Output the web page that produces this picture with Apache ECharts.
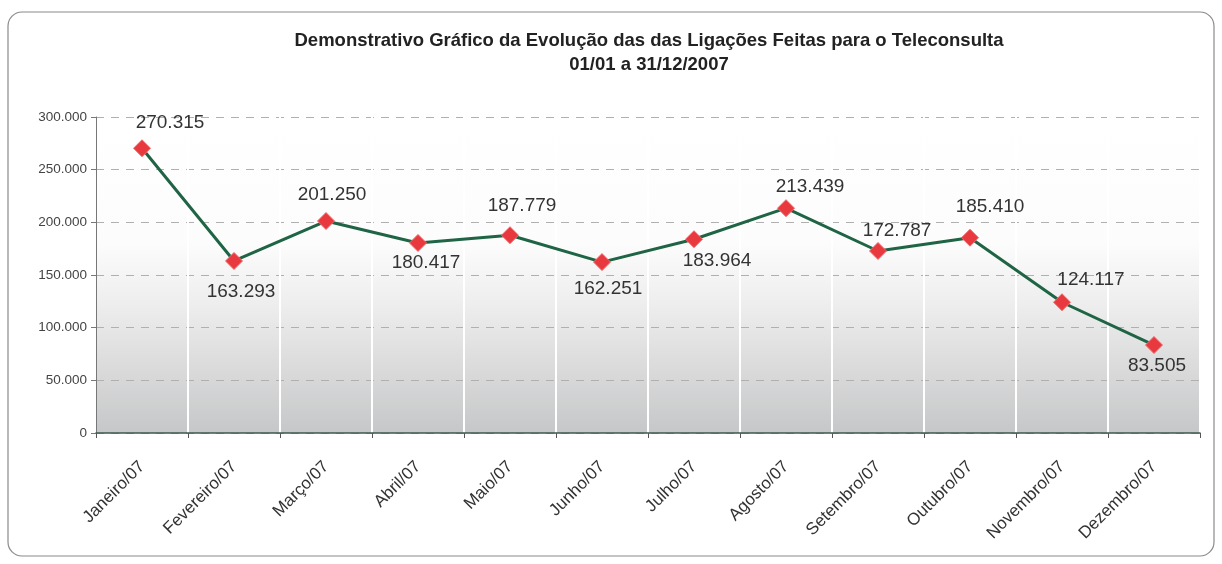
<!DOCTYPE html>
<html>
<head>
<meta charset="utf-8">
<script src="https://cdn.jsdelivr.net/npm/echarts@6/dist/echarts.min.js"></script>
<style>
    html, body {margin: 0; padding: 0; background: #fff;}
    #chart {width: 1222px; height: 564px;}
</style>
</head>
<body>
<div id="chart"></div>
<script>
const months = ['Janeiro/07', 'Fevereiro/07', 'Março/07', 'Abril/07', 'Maio/07', 'Junho/07',
    'Julho/07', 'Agosto/07', 'Setembro/07', 'Outubro/07', 'Novembro/07', 'Dezembro/07'];
const ligacoes = [270315, 163293, 201250, 180417, 187779, 162251, 183964, 213439, 172787, 185410, 124117, 83505];
const yTicks = [0, 50000, 100000, 150000, 200000, 250000, 300000];

// deslocamento de cada rótulo em relação ao ponto (como no Excel original)
const labelShift = [[28, -26], [7, 31], [6, -26], [8, 20], [12, -29], [6, 27],
    [23, 22], [24, -21], [19, -20], [20, -31], [29, -22], [3, 21]];

function fmt(v) {
    return String(v).replace(/\B(?=(\d{3})+(?!\d))/g, '.');
}

const seriesData = ligacoes.map(function (v, i) {
    return {
        value: v,
        label: {position: 'inside', offset: labelShift[i]}
    };
});

const chart = echarts.init(document.getElementById('chart'));
chart.setOption({
    backgroundColor: '#fff',
    animation: false,
    title: {
        text: 'Demonstrativo Gráfico da Evolução das das Ligações Feitas para o Teleconsulta\n01/01 a 31/12/2007',
        left: 644,
        textAlign: 'center',
        top: 24,
        textStyle: {
            fontFamily: 'Liberation Sans, Arial',
            fontSize: 18.5,
            fontWeight: 'bold',
            color: '#222',
            lineHeight: 24
        }
    },
    graphic: [{
        type: 'rect',
        shape: {x: 8, y: 12, width: 1206, height: 544, r: 14},
        style: {fill: 'none', stroke: '#8a8a8a', lineWidth: 1.2},
        z: -10
    }],
    grid: {
        left: 96, right: 22, top: 117, bottom: 131,
        show: true,
        borderWidth: 0,
        backgroundColor: new echarts.graphic.LinearGradient(0, 0, 0, 1, [
            {offset: 0, color: '#ffffff'},
            {offset: 0.4, color: '#fcfcfc'},
            {offset: 0.6, color: '#ededed'},
            {offset: 1, color: '#c6c7c8'}
        ])
    },
    xAxis: {
        type: 'category',
        data: months,
        boundaryGap: true,
        axisLine: {lineStyle: {color: '#3d5a4c', width: 1.5}},
        axisTick: {show: true, alignWithLabel: false, length: 5, lineStyle: {color: '#555'}},
        splitLine: {show: true, lineStyle: {color: '#ffffff', width: 2}},
        axisLabel: {
            rotate: 45,
            margin: 31,
            fontFamily: 'Liberation Sans, Arial',
            fontSize: 17,
            color: '#333'
        }
    },
    yAxis: {
        type: 'value',
        min: yTicks[0],
        max: yTicks[yTicks.length - 1],
        interval: yTicks[1] - yTicks[0],
        axisLine: {show: true, lineStyle: {color: '#777'}},
        axisTick: {show: true, length: 5, lineStyle: {color: '#777'}},
        splitLine: {show: true, lineStyle: {color: '#b0b0b0', type: [8, 7], width: 1}},
        axisLabel: {
            formatter: fmt,
            fontFamily: 'Liberation Sans, Arial',
            fontSize: 13.5,
            color: '#444',
            margin: 9
        }
    },
    series: [{
        type: 'line',
        data: seriesData,
        symbol: 'diamond',
        symbolSize: 17,
        lineStyle: {color: '#1f6444', width: 3},
        itemStyle: {color: '#e8393f', borderColor: '#f06a6e', borderWidth: 1},
        label: {
            show: true,
            formatter: function (p) { return fmt(p.value); },
            fontFamily: 'Liberation Sans, Arial',
            fontSize: 19,
            color: '#333'
        },
        z: 5
    }]
});
</script>
</body>
</html>
